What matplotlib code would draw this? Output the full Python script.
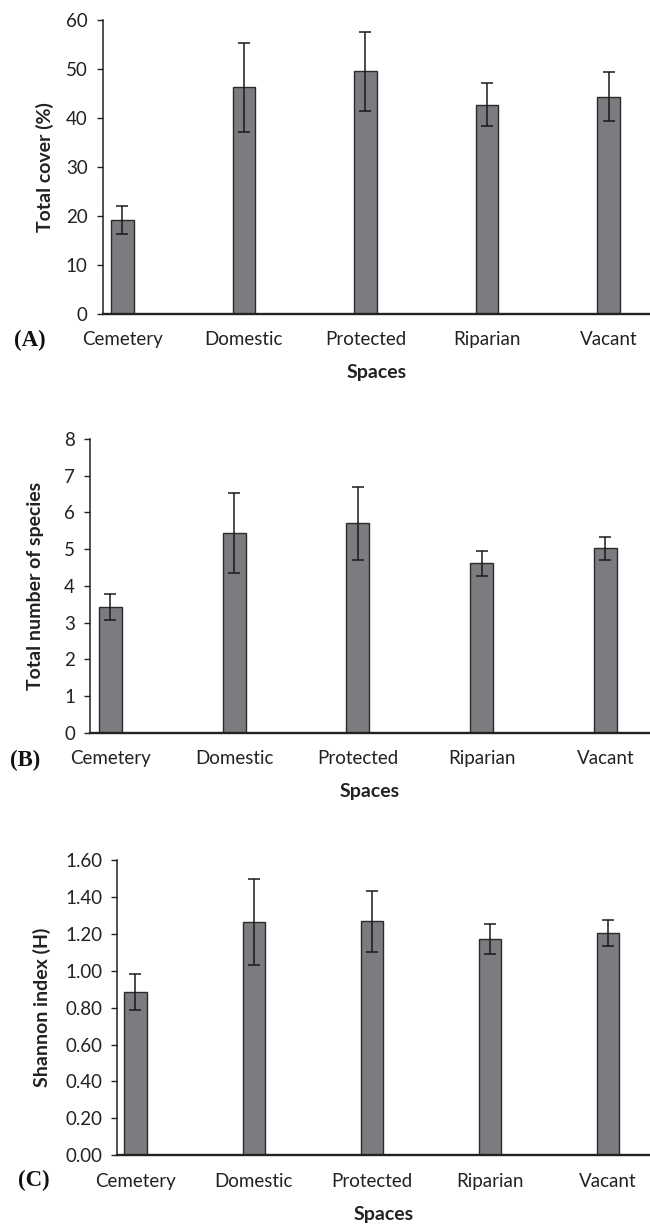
import numpy as np
import matplotlib
matplotlib.use('Agg')
import matplotlib.pyplot as plt
from matplotlib.ticker import FormatStrFormatter

# Data (means and error bar half-widths)
spaces = ['Cemetery', 'Domestic', 'Protected', 'Riparian', 'Vacant']

cover_mean = [19.1, 46.3, 49.5, 42.7, 44.3]
cover_err = [2.8, 9.1, 8.0, 4.4, 5.0]

species_mean = [3.43, 5.43, 5.70, 4.61, 5.02]
species_err = [0.35, 1.09, 1.00, 0.34, 0.31]

shannon_mean = [0.885, 1.264, 1.267, 1.172, 1.203]
shannon_err = [0.096, 0.234, 0.165, 0.080, 0.070]

W, H = 650, 1224
plt.rcParams['font.family'] = ['Lato', 'DejaVu Sans']

fig = plt.figure(figsize=(W/100, H/100), dpi=100)


def px_rect(left, top, right, bottom):
    return [left/W, 1 - bottom/H, (right-left)/W, (bottom-top)/H]


def bar_panel(rect, means, errs, ylim, yticks, ylabel, xlim, fmt=None):
    ax = fig.add_axes(rect)
    x = np.arange(len(spaces))
    ax.bar(x, means, width=0.187, color='#7b7c80', edgecolor='#2b2b2b',
           linewidth=1.0, zorder=2)
    ax.errorbar(x, means, yerr=errs, fmt='none', ecolor='#1a1a1a',
                elinewidth=1.1, capsize=4, capthick=1.1, zorder=3)
    ax.set_xlim(xlim)
    ax.set_ylim(ylim)
    ax.set_yticks(yticks)
    if fmt:
        ax.yaxis.set_major_formatter(FormatStrFormatter(fmt))
    ax.set_xticks(x)
    ax.set_xticklabels(spaces)
    ax.tick_params(axis='x', length=0, pad=12.5, labelsize=13.5, colors='#222222')
    ax.tick_params(axis='y', length=4.3, width=1, pad=6.5, labelsize=13.5,
                   colors='#222222', direction='out')
    for s in ['top', 'right']:
        ax.spines[s].set_visible(False)
    ax.spines['left'].set_linewidth(1.1)
    ax.spines['bottom'].set_linewidth(1.7)
    ax.spines['left'].set_color('#222222')
    ax.spines['bottom'].set_color('#222222')
    ax.set_xlabel('Spaces', fontweight='bold', fontsize=14, labelpad=11.5,
                  color='#222222')
    ax.set_ylabel(ylabel, fontweight='bold', fontsize=14, color='#222222')
    return ax


# label x given as the right edge of the rotated y label, in pixels
axA = bar_panel(px_rect(102.5, 20, 650, 313.7), cover_mean, cover_err,
                (0, 60), np.arange(0, 61, 10), 'Total cover (%)', (-0.163, 4.341))
axA.yaxis.set_label_coords(-(102.5-54)/547.5, 0.5)

axB = bar_panel(px_rect(90, 439, 650, 732.7), species_mean, species_err,
                (0, 8), np.arange(0, 9, 1), 'Total number of species', (-0.164, 4.36))
axB.yaxis.set_label_coords(-(90-44)/560, 0.5)

axC = bar_panel(px_rect(117.3, 860, 650, 1155.3), shannon_mean, shannon_err,
                (0, 1.6), np.arange(0, 1.61, 0.2), 'Shannon index (H)', (-0.154, 4.358),
                fmt='%.2f')
axC.yaxis.set_label_coords(-(117.3-51)/532.7, 0.5)

for lab, xp, yp in [('(A)', 30, 340), ('(B)', 25, 760), ('(C)', 34, 1180)]:
    fig.text(xp/W, 1 - yp/H, lab, family=['Liberation Serif', 'DejaVu Serif'],
             fontweight='bold', fontsize=16.5, ha='center', va='center',
             color='#111111')

fig.savefig('out.png', dpi=100)
